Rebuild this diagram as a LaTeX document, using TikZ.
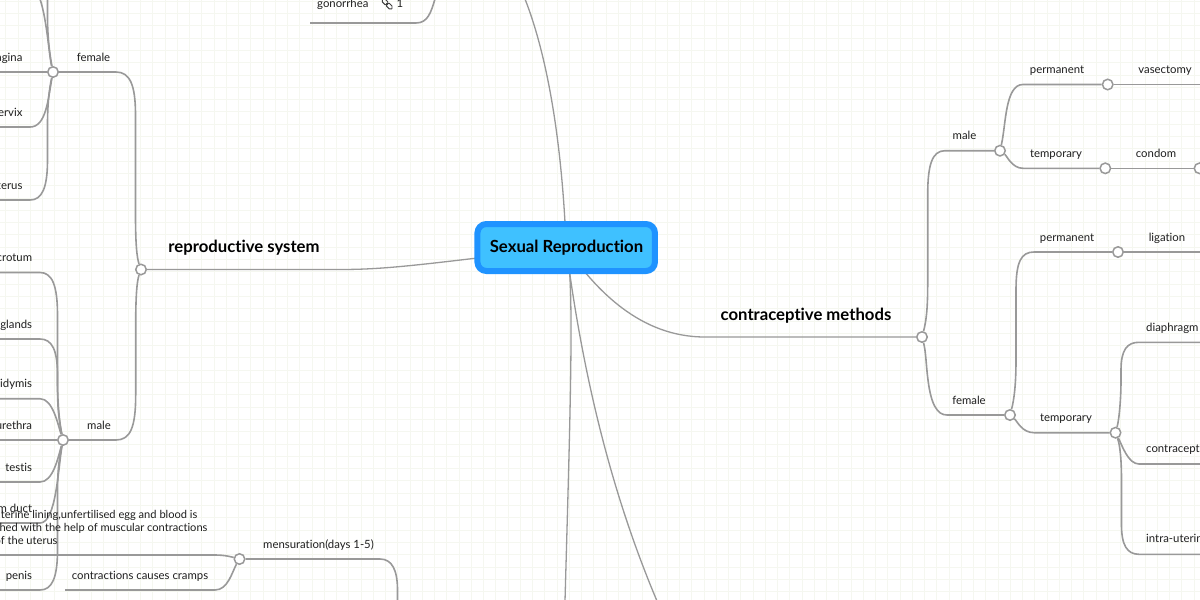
\documentclass[tikz,border=0pt]{standalone}
\usepackage{fontspec}
\setmainfont[Ligatures=NoCommon]{Lato}
\pgfdeclarelayer{gridlayer}
\pgfdeclarelayer{edgelayer}
\pgfsetlayers{gridlayer,edgelayer,main}
\definecolor{gridc}{HTML}{F5F7F0}
\definecolor{edgec}{HTML}{999999}
\definecolor{txtc}{HTML}{1E1E1E}
\definecolor{rootfill}{HTML}{3FC1FF}
\definecolor{rootline}{HTML}{1F93FF}
\tikzset{
  lbl/.style={inner sep=0pt,anchor=base,text=txtc,font=\fontsize{11.35}{13.4}\selectfont},
  big/.style={inner sep=0pt,anchor=base,text=black,font=\fontsize{16.7}{18}\selectfont\bfseries},
  hub/.style={circle,draw=edgec,fill=white,line width=1.5pt,minimum size=10.5pt,inner sep=0pt},
  edge/.style={draw=edgec,line width=1.6pt},
  trunk/.style={draw=edgec,line width=1.3pt},
  rootbox/.style={draw=rootline,fill=rootfill,line width=6pt,rounded corners=9pt,minimum width=177.5pt,minimum height=47pt,inner sep=0pt},
  roottext/.style={inner sep=0pt,anchor=base,text=black,font=\fontsize{16.7}{18}\selectfont\bfseries}
}
\begin{document}
\begin{tikzpicture}[x=1pt,y=-1pt]
\useasboundingbox (0,0) rectangle (1200,600);
\clip (0,0) rectangle (1200,600);
\begin{pgfonlayer}{gridlayer}
\fill[white] (0,0) rectangle (1200,600);
\foreach \k in {0,...,98} {\draw[gridc,line width=1pt] ({5.75+12.25*\k},0) -- ({5.75+12.25*\k},600);}
\foreach \k in {0,...,48} {\draw[gridc,line width=1pt] (0,{1.2+12.3*\k}) -- (1200,{1.2+12.3*\k});}
\end{pgfonlayer}

% root and hubs
\node[rootbox] (root) at (566.2,247.5) {};
\node[roottext] (roottxt) at (566.5,252.5) {Sexual Reproduction};
\node[hub] (repro) at (141,269.5) {};
\node[hub] (rfemale) at (53,72) {};
\node[hub] (rmale) at (63,440) {};
\node[hub] (mens) at (239.5,559) {};
\node[hub] (contra) at (922,337) {};
\node[hub] (cmale) at (1000,150.7) {};
\node[hub] (cmperm) at (1107.7,84.5) {};
\node[hub] (cmtemp) at (1105.3,168.3) {};
\node[hub] (condom) at (1199.5,168.3) {};
\node[hub] (cfemale) at (1010,415) {};
\node[hub] (cfperm) at (1118,252) {};
\node[hub] (cftemp) at (1115.5,432.7) {};

% free ends
\coordinate (topend) at (525,-1);
\coordinate (botA) at (565,601);
\coordinate (botB) at (657,601);
\coordinate (gonL) at (310,23);
\coordinate (gonT) at (435,-1);
\coordinate (upA) at (40,-1);
\coordinate (upB) at (47.5,-1);
\coordinate (vagE) at (-1,72);
\coordinate (cerE) at (-1,127);
\coordinate (uteE) at (-1,200);
\coordinate (scrE) at (-1,272.5);
\coordinate (glaE) at (-1,339);
\coordinate (epiE) at (-1,398.7);
\coordinate (ureE) at (-1,440);
\coordinate (tesE) at (-1,482);
\coordinate (spdE) at (-1,523);
\coordinate (penE) at (-1,590);
\coordinate (menA) at (-1,555);
\coordinate (menB) at (65,590);
\coordinate (menD) at (397.5,601);
\coordinate (vasE) at (1201,84.5);
\coordinate (ligE) at (1201,252);
\coordinate (diaE) at (1201,342.3);
\coordinate (conE) at (1201,464);
\coordinate (iudE) at (1201,554.3);

\begin{pgfonlayer}{edgelayer}
% root branches
\draw[trunk] (root.center) .. controls (562,140) and (547,55) .. (topend);
\draw[trunk] (root.center) .. controls (425,264) and (390,269.5) .. (340,269.5) -- (repro);
\draw[trunk] (root.center) .. controls (575,275) and (570,420) .. (botA);
\draw[trunk] (root.center) .. controls (582,370) and (610,490) .. (botB);
\draw[trunk] (root.center) .. controls (596,290) and (640,337) .. (705,337) -- (contra);
% gonorrhea
\draw[edge] (gonL) -- (416,23) .. controls (428,23) and (431,12) .. (gonT);
% reproductive system
\draw[edge] (repro) .. controls (137,258) and (135.5,245) .. (135.5,215) -- (135.5,115) .. controls (135.5,85) and (130,72) .. (116,72) -- (rfemale);
\draw[edge] (repro) .. controls (137,281) and (135.7,295) .. (135.7,325) -- (135.7,395) .. controls (135.7,428) and (130,440) .. (116,440) -- (rmale);
% female organs
\draw[edge] (rfemale) .. controls (49,55) and (47,20) .. (upA);
\draw[edge] (rfemale) .. controls (49,50) and (47.5,35) .. (47.5,15) -- (upB);
\draw[edge] (rfemale) -- (vagE);
\draw[edge] (rfemale) .. controls (48,100) and (46,127) .. (30,127) -- (cerE);
\draw[edge] (rfemale) .. controls (49,90) and (47.5,105) .. (47.5,125) -- (47.5,160) .. controls (47.5,188) and (42,200) .. (30,200) -- (uteE);
% male organs
\draw[edge] (rmale) .. controls (59,420) and (57.5,400) .. (57.5,380) -- (57.5,315) .. controls (57.5,285) and (52,272.5) .. (40,272.5) -- (scrE);
\draw[edge] (rmale) .. controls (59,420) and (57.5,410) .. (57.5,385) -- (57.5,375) .. controls (57.5,350) and (52,339) .. (40,339) -- (glaE);
\draw[edge] (rmale) .. controls (58,425) and (53,398.7) .. (40,398.7) -- (epiE);
\draw[edge] (rmale) -- (ureE);
\draw[edge] (rmale) .. controls (58,458) and (53,482) .. (40,482) -- (tesE);
\draw[edge] (rmale) .. controls (58,470) and (56,523) .. (40,523) -- (spdE);
\draw[edge] (rmale) .. controls (59,460) and (57.5,470) .. (57.5,495) -- (57.5,550) .. controls (57.5,578) and (52,590) .. (40,590) -- (penE);
% mensuration
\draw[edge] (mens) -- (380,559) .. controls (392,559) and (397.5,570) .. (397.5,590) -- (menD);
\draw[edge] (mens) .. controls (232,557) and (225,555) .. (215,555) -- (menA);
\draw[edge] (mens) .. controls (232,572) and (228,590) .. (215,590) -- (menB);
% contraceptive methods
\draw[edge] (contra) .. controls (926,322) and (927.7,310) .. (927.7,285) -- (927.7,195) .. controls (927.7,165) and (932,150.7) .. (945,150.7) -- (cmale);
\draw[edge] (contra) .. controls (926,352) and (926,365) .. (928,380) .. controls (931,404) and (937,415) .. (947,415) -- (cfemale);
\draw[edge] (cmale) .. controls (1006,125) and (1005,84.5) .. (1023,84.5) -- (cmperm);
\draw[edge] (cmale) .. controls (1007,156) and (1012,168.3) .. (1023,168.3) -- (cmtemp);
\draw[edge] (cmperm) -- (vasE);
\draw[edge] (cmtemp) -- (condom);
\draw[edge] (cfemale) .. controls (1014,400) and (1016,385) .. (1016,360) -- (1016,290) .. controls (1016,262) and (1021,252) .. (1034,252) -- (cfperm);
\draw[edge] (cfemale) .. controls (1017,421) and (1022,432.7) .. (1034,432.7) -- (cftemp);
\draw[edge] (cfperm) -- (ligE);
\draw[edge] (cftemp) .. controls (1119,420) and (1121,400) .. (1121,380) -- (1121,370) .. controls (1121,350) and (1127,342.3) .. (1139,342.3) -- (diaE);
\draw[edge] (cftemp) .. controls (1122,445) and (1128,464) .. (1139,464) -- (conE);
\draw[edge] (cftemp) .. controls (1120,445) and (1121.5,460) .. (1121.5,480) -- (1121.5,525) .. controls (1121.5,545) and (1127,554.3) .. (1139,554.3) -- (iudE);
\end{pgfonlayer}

% big labels
\node[big] (t1) at (244,252.5) {reproductive system};
\node[big] (t2) at (806,320.5) {contraceptive methods};

% labels
\node[lbl,anchor=base east] (l1) at (22.6,61) {vagina};
\node[lbl,anchor=base east] (l2) at (22.6,116) {cervix};
\node[lbl,anchor=base east] (l3) at (22.6,189) {uterus};
\node[lbl,anchor=base east] (l4) at (32.3,261.5) {scrotum};
\node[lbl,anchor=base east] (l5) at (32.3,328) {seminal glands};
\node[lbl,anchor=base east] (l6) at (32.3,387.5) {epididymis};
\node[lbl,anchor=base east] (l7) at (32.3,429) {urethra};
\node[lbl,anchor=base east] (l8) at (32.3,471) {testis};
\node[lbl,anchor=base east] (l9) at (32.3,512) {sperm duct};
\node[lbl,anchor=base east] (l10) at (32.3,579) {penis};
\node[lbl] (l11) at (93.5,61) {female};
\node[lbl] (l12) at (99,429) {male};
\node[lbl] (l13) at (318.5,548) {mensuration(days 1-5)};
\node[lbl] (l14) at (140,579) {contractions causes cramps};
\node[lbl,anchor=north west,align=left,font=\fontsize{11.1}{13}\selectfont] (l15) at (-5.5,510) {uterine lining,unfertilised egg and blood is\\shed with the help of muscular contractions\\of the uterus};
\node[lbl,anchor=base west] (l16) at (317,7) {gonorrhea};
\node[lbl,anchor=base west] (l17) at (396.5,7) {1};
\node[lbl] (r1) at (964.5,139.5) {male};
\node[lbl] (r2) at (1057,73) {permanent};
\node[lbl] (r3) at (1165,73) {vasectomy};
\node[lbl] (r4) at (1056,157) {temporary};
\node[lbl] (r5) at (1156,157) {condom};
\node[lbl] (r6) at (969,404) {female};
\node[lbl] (r7) at (1067,241) {permanent};
\node[lbl] (r8) at (1167,241) {ligation};
\node[lbl] (r9) at (1066,421.5) {temporary};
\node[lbl,anchor=base west] (r10) at (1146,331) {diaphragm};
\node[lbl,anchor=base west] (r11) at (1146,452.5) {contraceptive pill};
\node[lbl,anchor=base west] (r12) at (1146,542.5) {intra-uterine device};

% link icon
\begin{scope}[shift={(387.2,4)},rotate=-45,draw=txtc!85]
\draw[line width=.9pt,rounded corners=1.8pt] (-6.6,-2) rectangle (0.6,2);
\draw[line width=.9pt,rounded corners=1.8pt] (-0.6,-2) rectangle (6.6,2);
\end{scope}
\end{tikzpicture}
\end{document}
